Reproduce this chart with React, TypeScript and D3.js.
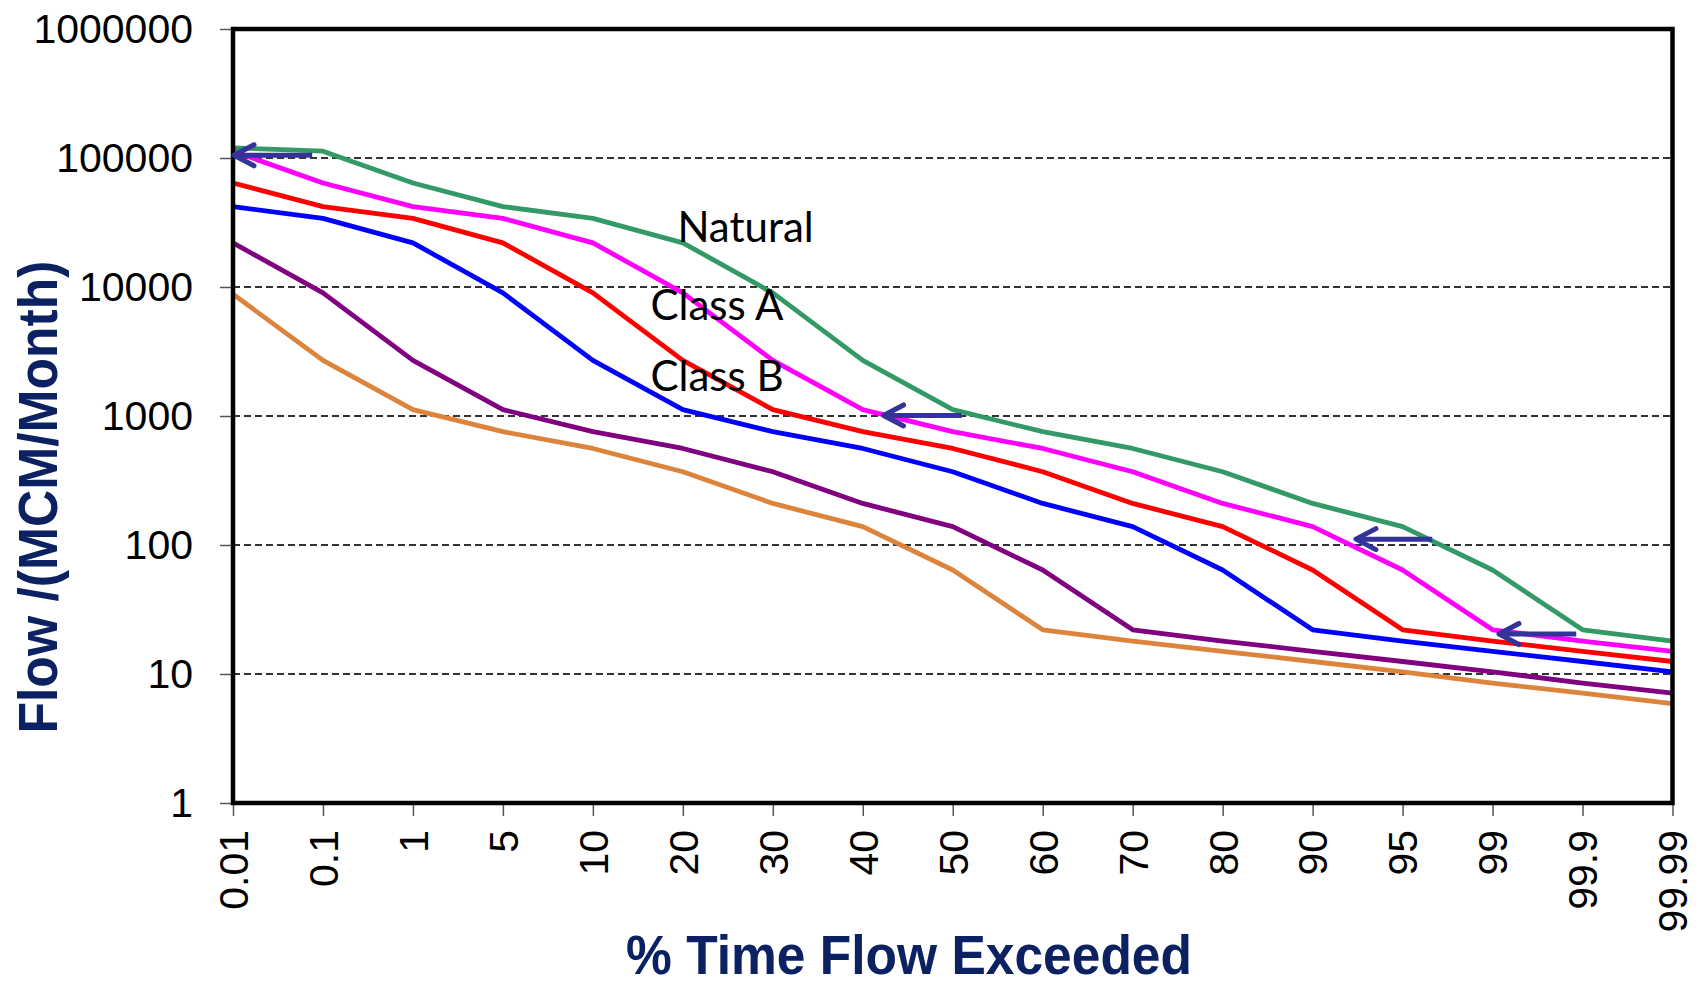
import { useEffect, useRef } from "react";
import * as d3 from "d3";

// % time exceeded (categorical x positions)
const categories = ["0.01", "0.1", "1", "5", "10", "20", "30", "40", "50", "60", "70", "80", "90", "95", "99", "99.9", "99.99"];

// flow, MCM/month
const natural = [120000, 113000, 64000, 42000, 34000, 22000, 9000, 2700, 1120, 756, 560, 370, 210, 139, 64, 22, 18];
const classA = [113000, 64000, 42000, 34000, 22000, 9000, 2700, 1120, 756, 560, 370, 210, 139, 64, 22, 18, 15];
const classB = [64000, 42000, 34000, 22000, 9000, 2700, 1120, 756, 560, 370, 210, 139, 64, 22, 18, 15, 12.5];
const classC = [42000, 34000, 22000, 9000, 2700, 1120, 756, 560, 370, 210, 139, 64, 22, 18, 15, 12.5, 10.4];
const classD = [22000, 9000, 2700, 1120, 756, 560, 370, 210, 139, 64, 22, 18, 15, 12.5, 10.4, 8.5, 7.1];
const classE = [8800, 2700, 1120, 756, 560, 370, 210, 139, 64, 22, 18, 15, 12.5, 10.4, 8.5, 7.1, 5.9];

const yTicks = [1, 10, 100, 1000, 10000, 100000, 1000000];

const seriesList = [
  { name: "Natural", values: natural, color: "#339966" },
  { name: "Class A", values: classA, color: "#ff00ff" },
  { name: "Class B", values: classB, color: "#ff0000" },
  { name: "Class C", values: classC, color: "#0000ff" },
  { name: "Class D", values: classD, color: "#800080" },
  { name: "Class E", values: classE, color: "#dd843c" },
];

// arrows: flow level, start / end as fractional category index
const arrowLevels = [105000, 1010, 111, 20.4];
const arrowFrom = [0.88, 8.1, 13.33, 14.93];
const arrowTo = [0, 7.22, 12.47, 14.06];

// curve labels: text, fractional category index, flow at baseline
const labelTexts = ["Natural", "Class A", "Class B"];
const labelIdx = [4.94, 4.64, 4.64];
const labelFlow = [22400, 5500, 1550];

export default function App() {
  const ref = useRef<HTMLDivElement>(null);

  useEffect(() => {
    const container = d3.select(ref.current);
    container.selectAll("*").remove();

    const width = 1700;
    const height = 983;
    const left = 233;
    const right = 1672.5;
    const top = 29;
    const bottom = 803;

    const svg = container
      .append("svg")
      .attr("width", width)
      .attr("height", height)
      .style("position", "absolute")
      .style("left", "0px")
      .style("top", "0px")
      .style("background", "#fff");

    const x = d3.scalePoint<string>().domain(categories).range([left, right]);
    const xi = d3.scaleLinear().domain([0, categories.length - 1]).range([left, right]);
    const y = d3.scaleLog().domain([1, 1000000]).range([bottom, top]);

    // gridlines
    svg
      .append("g")
      .selectAll("line")
      .data(yTicks.filter((t) => t > 1 && t < 1000000))
      .join("line")
      .attr("x1", left)
      .attr("x2", right)
      .attr("y1", (d) => y(d))
      .attr("y2", (d) => y(d))
      .attr("stroke", "#333")
      .attr("stroke-width", 2.2)
      .attr("stroke-dasharray", "7,4");

    // y axis ticks + labels
    const yAxis = svg
      .append("g")
      .attr("transform", `translate(${left},0)`)
      .call(d3.axisLeft(y).tickValues(yTicks).tickFormat(d3.format("d")).tickSize(13).tickPadding(27));
    yAxis.select(".domain").remove();
    yAxis.selectAll(".tick line").attr("stroke", "#555").attr("stroke-width", 1.5);
    yAxis
      .selectAll(".tick text")
      .attr("fill", "#000")
      .style("font-family", "'Liberation Sans', Arial, sans-serif")
      .style("font-size", "41px");

    // x axis ticks + labels
    const xAxis = svg
      .append("g")
      .attr("transform", `translate(0,${bottom})`)
      .call(d3.axisBottom(x).tickSize(13).tickPadding(0));
    xAxis.select(".domain").remove();
    xAxis.selectAll(".tick line").attr("stroke", "#555").attr("stroke-width", 1.5);
    xAxis
      .selectAll(".tick text")
      .attr("fill", "#000")
      .attr("transform", "translate(0,27) rotate(-90)")
      .attr("x", 0)
      .attr("y", 0)
      .attr("dy", "0.35em")
      .attr("text-anchor", "end")
      .style("font-family", "'Liberation Sans', Arial, sans-serif")
      .style("font-size", "41px");

    // series
    const line = d3
      .line<number>()
      .x((_, i) => x(categories[i]) as number)
      .y((d) => y(d));

    svg
      .append("g")
      .selectAll("path")
      .data(seriesList)
      .join("path")
      .attr("fill", "none")
      .attr("stroke", (d) => d.color)
      .attr("stroke-width", 4.8)
      .attr("stroke-linejoin", "round")
      .attr("d", (d) => line(d.values));

    // plot border
    svg
      .append("rect")
      .attr("x", left)
      .attr("y", top)
      .attr("width", right - left)
      .attr("height", bottom - top)
      .attr("fill", "none")
      .attr("stroke", "#000")
      .attr("stroke-width", 4.5);

    // arrows
    const arrows = svg.append("g").attr("stroke", "#333399").attr("fill", "none").attr("stroke-width", 5);
    arrowLevels.forEach((lvl, i) => {
      const yy = y(lvl);
      const x0 = xi(arrowFrom[i]);
      const x1 = xi(arrowTo[i]);
      arrows.append("line").attr("x1", x0).attr("x2", x1 + 2).attr("y1", yy).attr("y2", yy);
      arrows
        .append("path")
        .attr("stroke-linecap", "round")
        .attr("stroke-linejoin", "round")
        .attr("d", `M${x1 + 21},${yy - 10.5}L${x1 + 1},${yy}L${x1 + 21},${yy + 10.5}`);
    });

    // curve labels
    svg
      .append("g")
      .selectAll("text")
      .data(labelTexts)
      .join("text")
      .attr("x", (_, i) => xi(labelIdx[i]))
      .attr("y", (_, i) => y(labelFlow[i]))
      .attr("fill", "#000")
      .style("font-family", "Lato, 'Open Sans', sans-serif")
      .style("font-size", "42px")
      .text((d) => d);

    // axis titles
    svg
      .append("text")
      .attr("transform", "translate(57,497) rotate(-90)")
      .attr("text-anchor", "middle")
      .attr("fill", "#0b2161")
      .attr("textLength", 473)
      .attr("lengthAdjust", "spacingAndGlyphs")
      .style("font-family", "'Liberation Sans', Arial, sans-serif")
      .style("font-weight", "bold")
      .style("font-size", "56px")
      .text("Flow /(MCM/Month)");

    svg
      .append("text")
      .attr("x", 909)
      .attr("y", 974)
      .attr("text-anchor", "middle")
      .attr("fill", "#0b2161")
      .attr("textLength", 566)
      .attr("lengthAdjust", "spacingAndGlyphs")
      .style("font-family", "'Liberation Sans', Arial, sans-serif")
      .style("font-weight", "bold")
      .style("font-size", "55px")
      .text("% Time Flow Exceeded");
  }, []);

  return <div ref={ref} />;
}
